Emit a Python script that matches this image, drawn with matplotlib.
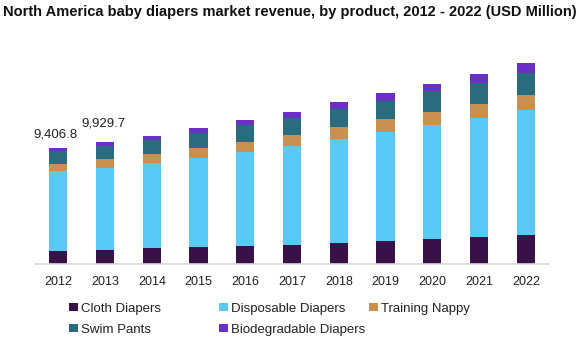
import matplotlib
matplotlib.use('Agg')
import matplotlib.pyplot as plt
from matplotlib.patches import Patch
import numpy as np

plt.rcParams['font.family'] = ['Liberation Sans', 'DejaVu Sans']

years = ['2012', '2013', '2014', '2015', '2016', '2017', '2018', '2019', '2020', '2021', '2022']
cloth = [1064, 1140, 1330, 1410, 1467, 1550, 1710, 1875, 2040, 2200, 2365]
disposable = [6487, 6700, 6900, 7250, 7690, 8090, 8475, 8910, 9290, 9725, 10190]
training = [630, 705, 760, 815, 790, 870, 980, 1035, 1085, 1140, 1220]
swim = [1006, 1085, 1140, 1200, 1330, 1410, 1467, 1467, 1630, 1690, 1790]
biodeg = [220, 300, 326, 408, 460, 465, 570, 676, 650, 733, 815]
labels = {0: '9,406.8', 1: '9,929.7'}

series = [
    ('Cloth Diapers', cloth, '#3A1048'),
    ('Disposable Diapers', disposable, '#5BC9F6'),
    ('Training Nappy', training, '#C9914F'),
    ('Swim Pants', swim, '#2A6B7D'),
    ('Biodegradable Diapers', biodeg, '#6A2FC4'),
]

fig = plt.figure(figsize=(5.83, 3.38), dpi=100)
ax = fig.add_axes([0.060, 0.219, 0.882, 0.654])

x = np.arange(len(years))
bottom = np.zeros(len(years))
for name, vals, col in series:
    ax.bar(x, vals, 0.39, bottom=bottom, color=col, label=name)
    bottom += np.array(vals)

for i, txt in labels.items():
    ax.annotate(txt, (x[i], bottom[i]), xytext=(-2 + i, 6 + 3 * i), textcoords='offset points',
                ha='center', va='bottom', fontsize=9.5, color='#222222')

ax.set_xlim(-0.5, 10.5)
ax.set_ylim(0, 18000)
ax.set_xticks(x)
ax.set_xticklabels(years, fontsize=9, color='#222222')
ax.tick_params(axis='x', length=0, pad=9)
ax.set_yticks([])
for s in ['top', 'right', 'left']:
    ax.spines[s].set_visible(False)
ax.spines['bottom'].set_color('#D9D9D9')
ax.spines['bottom'].set_linewidth(1.2)

fig.text(0.005, 0.965, 'North America baby diapers market revenue, by product, 2012 - 2022 (USD Million)',
         fontsize=10.5, fontweight='bold', ha='left', va='center', color='#111111')

# legend columns placed like the original
cols = [[0, 3], [1, 4], [2]]
xs = [0.119, 0.376, 0.633]
for xpos, idx in zip(xs, cols):
    handles = [Patch(facecolor=series[k][2], label=series[k][0]) for k in idx]
    leg = fig.legend(handles=handles, loc='upper left', bbox_to_anchor=(xpos, 0.105),
                     frameon=False, fontsize=9.5, handlelength=0.65, handleheight=0.65,
                     handletextpad=0.25, labelspacing=0.68, borderaxespad=0, borderpad=0)
    for t in leg.get_texts():
        t.set_color('#222222')

fig.savefig('out.png', dpi=100)
